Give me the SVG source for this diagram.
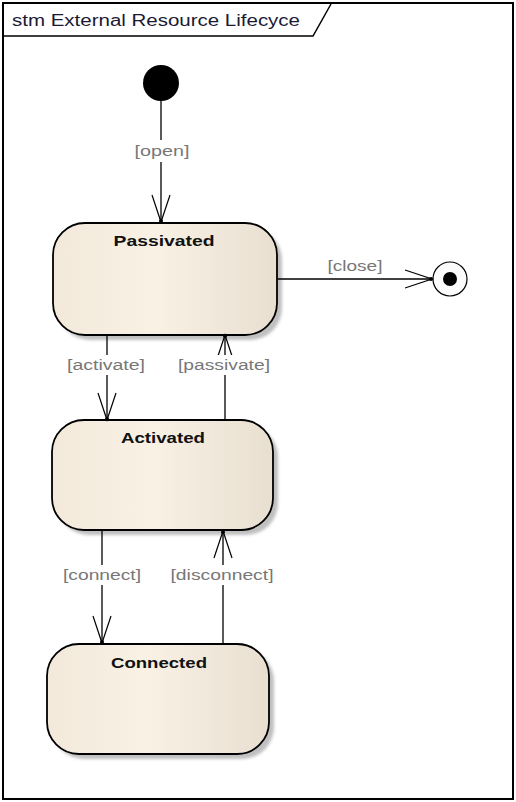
<svg xmlns="http://www.w3.org/2000/svg" width="516" height="802" viewBox="0 0 516 802">
<defs>
<linearGradient id="fill" x1="0" y1="0" x2="1" y2="0">
<stop offset="0" stop-color="#F2E9DB"/>
<stop offset="0.45" stop-color="#F9F1E4"/>
<stop offset="1" stop-color="#E8DFD1"/>
</linearGradient>
<filter id="blur" x="-10%" y="-10%" width="120%" height="120%"><feGaussianBlur stdDeviation="1.5"/></filter>
<marker id="arr" viewBox="-30 -12 33 24" refX="0" refY="0" markerWidth="33" markerHeight="24" markerUnits="userSpaceOnUse" orient="auto">
<path d="M-27,-9 L0,0 L-27,9" fill="none" stroke="#000" stroke-width="1.2"/>
<circle cx="-1" cy="0" r="2" fill="#000"/>
</marker>
</defs>
<style>
.frame{fill:#fff;stroke:#000;stroke-width:2}
.state{fill:url(#fill);stroke:#000;stroke-width:1.8}
.shadow{fill:#c0c0c0;filter:url(#blur)}
.title{font-family:"Liberation Sans",Arial,sans-serif;font-size:15px;font-weight:bold;fill:#111;text-anchor:middle}
.lbl{font-family:"Liberation Sans",Arial,sans-serif;font-size:14px;fill:#777;text-anchor:middle}
.lblbg{fill:#fff}
.edge{fill:none;stroke:#000;stroke-width:1.3}
.hdr{font-family:"Liberation Sans",Arial,sans-serif;font-size:16px;fill:#1a1a33}
</style>
<rect class="frame" x="3" y="3" width="510" height="796"/>
<g id="header">
<path d="M3,36 L313,36 L331,4" fill="none" stroke="#000" stroke-width="1.5"/>
<text class="hdr" x="12" y="26" textLength="288" lengthAdjust="spacingAndGlyphs">stm External Resource Lifecyce</text>
</g>
<g id="initial">
<circle cx="161" cy="83" r="18" fill="#000"/>
</g>
<g id="final">
<circle cx="450" cy="279" r="17" fill="#fbfbfb" stroke="#000" stroke-width="1.2"/>
<circle cx="450" cy="279" r="7" fill="#000"/>
</g>
<g id="passivated">
<rect class="shadow" x="58" y="228" width="224" height="112" rx="32" ry="32"/>
<rect class="state" x="53" y="223" width="224" height="112" rx="32" ry="32"/>
<text class="title" x="164" y="246" textLength="101" lengthAdjust="spacingAndGlyphs">Passivated</text>
</g>
<g id="activated">
<rect class="shadow" x="57" y="425" width="221" height="110" rx="32" ry="32"/>
<rect class="state" x="52" y="420" width="221" height="110" rx="32" ry="32"/>
<text class="title" x="163" y="443" textLength="84" lengthAdjust="spacingAndGlyphs">Activated</text>
</g>
<g id="connected">
<rect class="shadow" x="52" y="649" width="222" height="110" rx="32" ry="32"/>
<rect class="state" x="47" y="644" width="222" height="110" rx="32" ry="32"/>
<text class="title" x="159" y="668" textLength="96" lengthAdjust="spacingAndGlyphs">Connected</text>
</g>
<g id="connectors">
<g id="e-open">
<line class="edge" x1="161" y1="100" x2="161" y2="222" marker-end="url(#arr)"/>
<rect class="lblbg" x="133" y="140" width="60" height="22"/>
<text class="lbl" x="162" y="156" textLength="55" lengthAdjust="spacingAndGlyphs">[open]</text>
</g>
<g id="e-close">
<line class="edge" x1="278" y1="279" x2="432" y2="279" marker-end="url(#arr)"/>
<text class="lbl" x="355" y="271" textLength="55" lengthAdjust="spacingAndGlyphs">[close]</text>
</g>
<g id="e-activate">
<line class="edge" x1="107" y1="336" x2="107" y2="420" marker-end="url(#arr)"/>
<rect class="lblbg" x="66" y="355" width="82" height="20"/>
<text class="lbl" x="106" y="370" textLength="78" lengthAdjust="spacingAndGlyphs">[activate]</text>
</g>
<g id="e-passivate">
<line class="edge" x1="225" y1="419" x2="225" y2="335" marker-end="url(#arr)"/>
<rect class="lblbg" x="176" y="355" width="96" height="20"/>
<text class="lbl" x="224" y="370" textLength="92" lengthAdjust="spacingAndGlyphs">[passivate]</text>
</g>
<g id="e-connect">
<line class="edge" x1="102" y1="531" x2="102" y2="643" marker-end="url(#arr)"/>
<rect class="lblbg" x="61" y="565" width="82" height="20"/>
<text class="lbl" x="102" y="580" textLength="78" lengthAdjust="spacingAndGlyphs">[connect]</text>
</g>
<g id="e-disconnect">
<line class="edge" x1="223" y1="643" x2="223" y2="531" marker-end="url(#arr)"/>
<rect class="lblbg" x="169" y="565" width="107" height="20"/>
<text class="lbl" x="222" y="580" textLength="103" lengthAdjust="spacingAndGlyphs">[disconnect]</text>
</g>
</g>
</svg>
